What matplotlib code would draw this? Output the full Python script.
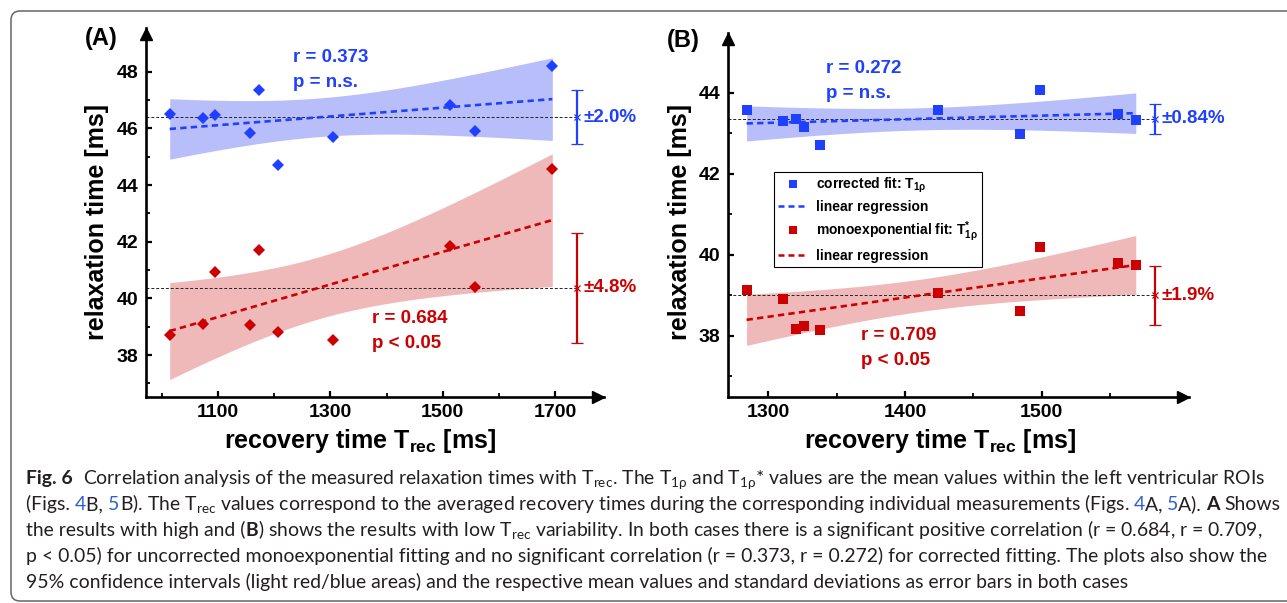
import numpy as np
import matplotlib
matplotlib.use('Agg')
import matplotlib.pyplot as plt
from matplotlib import font_manager
from matplotlib.patches import FancyBboxPatch
from matplotlib.lines import Line2D
from matplotlib.transforms import ScaledTranslation

W, H = 1287, 603

# (A) high T_rec variability
trec_a = [1014, 1074, 1094, 1157, 1173, 1206, 1304, 1513, 1557, 1695]
corr_a = [46.49, 46.38, 46.46, 45.85, 47.34, 44.72, 45.71, 46.84, 45.89, 48.19]
mono_a = [38.71, 39.11, 40.94, 39.05, 41.72, 38.81, 38.53, 41.85, 40.39, 44.58]
pct_a = ['±2.0%', '±4.8%']
stats_a = [('r = 0.373', 'p = n.s.'), ('r = 0.684', 'p < 0.05')]

# (B) low T_rec variability
trec_b = [1284, 1311, 1320, 1326, 1338, 1424, 1484, 1499, 1556, 1569]
corr_b = [43.56, 43.31, 43.36, 43.15, 42.71, 43.57, 42.99, 44.07, 43.47, 43.33]
mono_b = [39.13, 38.91, 38.17, 38.24, 38.14, 39.05, 38.61, 40.19, 39.79, 39.74]
pct_b = ['±0.84%', '±1.9%']
stats_b = [('r = 0.272', 'p = n.s.'), ('r = 0.709', 'p < 0.05')]

BLUE, RED = '#2040ff', '#cc0000'
BLUE_BAND, RED_BAND = '#b8befa', '#f0b9b9'


def pick_font(names):
    for n in names:
        try:
            font_manager.findfont(n, fallback_to_default=False)
            return n
        except ValueError:
            pass
    return 'DejaVu Sans'


plt.rcParams['font.family'] = [pick_font(['Liberation Sans', 'Arimo']), 'DejaVu Sans']
plt.rcParams['font.weight'] = 'bold'

fig = plt.figure(figsize=(W / 100, H / 100), dpi=100)


def px(x, y):
    return x / W, 1 - y / H


def add_axes_px(l, t, r, b):
    return fig.add_axes([l / W, 1 - b / H, (r - l) / W, (b - t) / H])


def regression_band(x, y, xs, tval=2.306):
    # linear fit with 95% confidence band (n = 10, df = 8)
    n = len(x)
    b, a = np.polyfit(x, y, 1)
    res = y - (a + b * x)
    s = np.sqrt(np.sum(res ** 2) / (n - 2))
    sxx = np.sum((x - x.mean()) ** 2)
    se = s * np.sqrt(1 / n + (xs - x.mean()) ** 2 / sxx)
    fit = a + b * xs
    return fit, fit - tval * se, fit + tval * se


def style_axes(ax, xlim, ylim, xmaj, xmin, ymaj, ymin):
    ax.set_xlim(xlim)
    ax.set_ylim(ylim)
    for s in ('top', 'right'):
        ax.spines[s].set_visible(False)
    for s in ('left', 'bottom'):
        ax.spines[s].set_linewidth(1.9)
    ax.set_xticks(xmaj)
    ax.set_xticks(xmin, minor=True)
    ax.set_yticks(ymaj)
    ax.set_yticks(ymin, minor=True)
    ax.tick_params(which='major', direction='in', length=4.5, width=1.6, labelsize=14, pad=5)
    ax.tick_params(which='minor', direction='in', length=3, width=1.3)
    ax.patch.set_alpha(0)
    # arrow heads
    ax.plot(1, 0, '>', color='k', ms=9, clip_on=False,
            transform=ax.transAxes + ScaledTranslation(-4.5 / 72, 0, fig.dpi_scale_trans))
    ax.plot(0, 1, '^', color='k', ms=9, clip_on=False,
            transform=ax.transAxes + ScaledTranslation(0, -4.5 / 72, fig.dpi_scale_trans))


def panel(ax, x, ycorr, ymono, marker, ms, xlim, err_x, pct, stats, txt_pos):
    x = np.asarray(x, float)
    xs = np.linspace(x.min(), x.max(), 200)
    groups = [(np.asarray(ycorr, float), BLUE, BLUE_BAND),
              (np.asarray(ymono, float), RED, RED_BAND)]
    for i, (y, col, band) in enumerate(groups):
        fit, lo, hi = regression_band(x, y, xs)
        ax.fill_between(xs, lo, hi, color=band, lw=0, zorder=1)
        mean, sd = y.mean(), y.std(ddof=1)
        ax.plot([xlim[0], err_x], [mean, mean], color='#222222', lw=0.7,
                dashes=(3, 2), zorder=2)
        ax.plot(xs, fit, color=col, lw=1.9, dashes=(2.4, 1.6), zorder=3)
        ax.plot(x, y, marker, color=col, ms=ms, ls='none', mew=0, zorder=4)
        eb = ax.errorbar(err_x, mean, yerr=sd, color=col, marker='x', ms=5, mew=0.9,
                         capsize=4.5, capthick=1.6, elinewidth=1.6, zorder=5)
        for a in eb.lines[0:1]:
            a.set_clip_on(False)
        ax.text(err_x + txt_pos['pct_dx'], mean, pct[i], color=col, fontsize=13.5,
                fontweight='bold', va='center', ha='left')
        tx, ty1, ty2 = txt_pos['stats'][i]
        ax.text(tx, ty1, stats[i][0], color=col, fontsize=13.5, fontweight='bold',
                va='center', ha='left')
        ax.text(tx, ty2, stats[i][1], color=col, fontsize=13.5, fontweight='bold',
                va='center', ha='left')


# ---- panel A ----
xlim_a, ylim_a = (970.9, 1787), (36.52, 49.54)
ax_a = add_axes_px(145.5, 28, 604, 397)
style_axes(ax_a, xlim_a, ylim_a, [1100, 1300, 1500, 1700], [1000, 1200, 1400, 1600],
           [38, 40, 42, 44, 46, 48], [37, 39, 41, 43, 45, 47])
panel(ax_a, trec_a, corr_a, mono_a, 'D', 6.5, xlim_a, 1739, pct_a, stats_a,
      {'pct_dx': 11, 'stats': [(1233, 48.51, 47.61), (1374, 39.3, 38.41)]})

# ---- panel B ----
xlim_b, ylim_b = (1270.1, 1608), (36.49, 45.47)
ax_b = add_axes_px(727.6, 33, 1189, 397)
style_axes(ax_b, xlim_b, ylim_b, [1300, 1400, 1500], [1350, 1450, 1550],
           [38, 40, 42, 44], [37, 39, 41, 43])
panel(ax_b, trec_b, corr_b, mono_b, 's', 7, xlim_b, 1583, pct_b, stats_b,
      {'pct_dx': 4.5, 'stats': [(1342, 44.6, 43.97), (1368, 38.0, 37.38)]})

handles = [Line2D([], [], ls='none', marker='s', color=BLUE, ms=6, mew=0),
           Line2D([], [], color=BLUE, lw=1.8, dashes=(2.4, 1.6)),
           Line2D([], [], ls='none', marker='s', color=RED, ms=6, mew=0),
           Line2D([], [], color=RED, lw=1.8, dashes=(2.4, 1.6))]
labels = [r'corrected fit: $\mathregular{T_{1ρ}}$', 'linear regression',
          r'monoexponential fit: $\mathregular{T^{*}_{1ρ}}$', 'linear regression']
leg = ax_b.legend(handles, labels, loc='upper left', bbox_to_anchor=px(774, 172),
                  bbox_transform=fig.transFigure, prop={'weight': 'bold', 'size': 10},
                  frameon=True, fancybox=False, edgecolor='k', framealpha=1,
                  borderpad=0.3, labelspacing=0.35, handlelength=2.1,
                  handletextpad=0.6, borderaxespad=0)
leg.get_frame().set_linewidth(0.8)

# panel letters and axis titles
fig.text(*px(101, 39), '(A)', fontsize=17, fontweight='bold', ha='center', va='center')
fig.text(*px(683, 41), '(B)', fontsize=17, fontweight='bold', ha='center', va='center')
for xc in (97, 680):
    fig.text(*px(xc, 222), 'relaxation time [ms]', fontsize=18, fontweight='bold',
             rotation=90, ha='center', va='center')
for xc in (360, 940):
    fig.text(*px(xc, 441), r'recovery time $\mathregular{T_{rec}}$ [ms]', fontsize=18,
             fontweight='bold', ha='center', va='center')

# outer rounded frame
frame = FancyBboxPatch((11, H - 601), 1300, 590, boxstyle='round,pad=0,rounding_size=9',
                       transform=None, fill=False, ec='#666666', lw=1.1, clip_on=False)
fig.add_artist(frame)

# ---- caption ----
cap_font = pick_font(['Lato', 'Noto Sans', 'Open Sans', 'DejaVu Sans'])
TXT, LINK = '#231f20', '#3060d0'
TREC = r'$\mathregular{T_{rec}}$'
caption = [
    [('Fig. 6', 'b'), ('  Correlation analysis of the measured relaxation times with ' + TREC
                        + r'. The $\mathregular{T_{1ρ}}$ and $\mathregular{T_{1ρ}}$'
                        + '* values are the mean values within the left ventricular ROIs', 'n')],
    [('(Figs. ', 'n'), ('4', 'l'), ('B, ', 'n'), ('5', 'l'),
     ('B). The ' + TREC + ' values correspond to the averaged recovery times during the '
      'corresponding individual measurements (Figs. ', 'n'), ('4', 'l'), ('A, ', 'n'),
     ('5', 'l'), ('A). ', 'n'), ('A', 'b'), (' Shows', 'n')],
    [('the results with high and (', 'n'), ('B', 'b'),
     (') shows the results with low ' + TREC + ' variability. In both cases there is a '
      'significant positive correlation (r = 0.684, r = 0.709,', 'n')],
    [('p < 0.05) for uncorrected monoexponential fitting and no significant correlation '
      '(r = 0.373, r = 0.272) for corrected fitting. The plots also show the', 'n')],
    [('95% confidence intervals (light red/blue areas) and the respective mean values and '
      'standard deviations as error bars in both cases', 'n')],
]
cap_base = [484, 510, 536, 562, 588]
cap_x0, cap_x1 = 26, 1262

renderer = fig.canvas.get_renderer()


def seg_kw(st, size):
    kw = dict(fontsize=size, family=[cap_font, 'DejaVu Sans'], fontweight='normal', color=TXT)
    if st == 'b':
        kw['fontweight'] = 'bold'
    if st == 'l':
        kw['color'] = LINK
    return kw


def seg_width(s, st, size):
    kw = seg_kw(st, size)
    a = fig.text(0, 0, '|' + s + '|', **kw)
    b = fig.text(0, 0, '||', **kw)
    w = a.get_window_extent(renderer).width - b.get_window_extent(renderer).width
    a.remove()
    b.remove()
    return w


size0 = 10.0
w0 = sum(seg_width(s, st, size0) for s, st in caption[0])
cap_size = size0 * (cap_x1 - cap_x0) / w0

for segs, yb in zip(caption, cap_base):
    x = cap_x0
    for s, st in segs:
        body = s.lstrip(' ')
        lead = len(s) - len(body)
        if lead:
            x += seg_width(' ' * lead, st, cap_size)
        fig.text(x / W, 1 - yb / H, body, ha='left', va='baseline', **seg_kw(st, cap_size))
        x += seg_width(body, st, cap_size)

fig.savefig('out.png', dpi=100)
